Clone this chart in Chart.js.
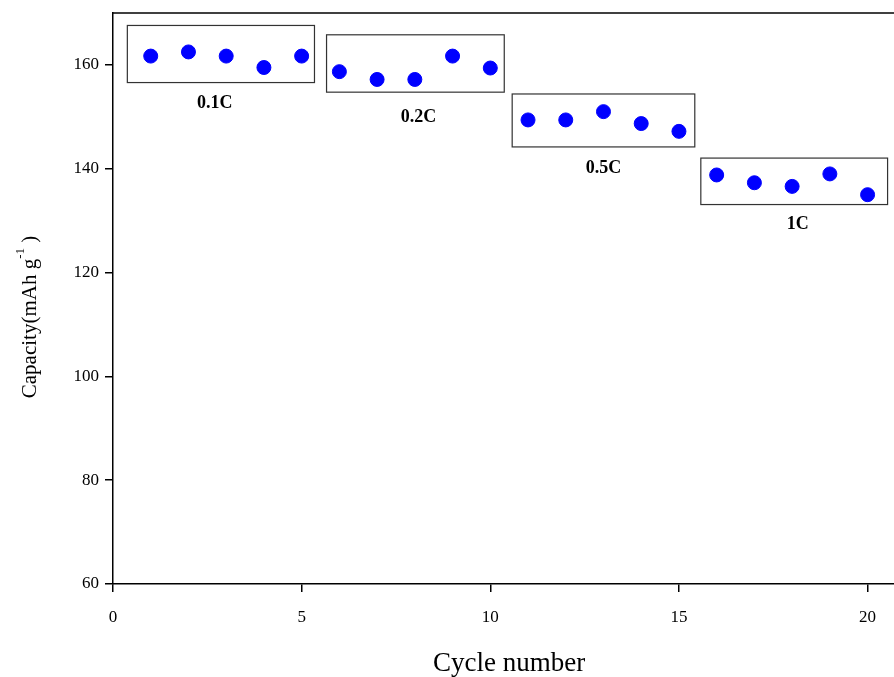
<!DOCTYPE html>
<html>
<head>
<meta charset="utf-8">
<script src="https://cdn.jsdelivr.net/npm/chart.js@4"></script>
<style>
  html, body { margin: 0; padding: 0; background: #fff; }
  canvas { display: block; }
</style>
</head>
<body>
<canvas id="chart" width="894" height="677"></canvas>
<script>
// Rate capability data
const cycles = [1, 2, 3, 4, 5, 6, 7, 8, 9, 10, 11, 12, 13, 14, 15, 16, 17, 18, 19, 20];
const capacity = [
  161.7, 162.5, 161.7, 159.5, 161.7,
  158.7, 157.2, 157.2, 161.7, 159.4,
  149.4, 149.4, 151.0, 148.7, 147.2,
  138.8, 137.3, 136.6, 139.0, 135.0,
];
const xTickValues = [0, 5, 10, 15, 20];
const yTickValues = [60, 80, 100, 120, 140, 160];

// Rate groups: label text and the boxed range (in data units)
const rateLabels = ["0.1C", "0.2C", "0.5C", "1C"];
const rateBoxes = [
  { x0: 0.38, x1: 5.34, y0: 156.6, y1: 167.6, lx: 2.7, ly: 152.6 },
  { x0: 5.66, x1: 10.37, y0: 154.75, y1: 165.8, lx: 8.1, ly: 149.9 },
  { x0: 10.58, x1: 15.42, y0: 144.2, y1: 154.4, lx: 13.0, ly: 140.1 },
  { x0: 15.58, x1: 20.53, y0: 133.1, y1: 142.05, lx: 18.15, ly: 129.2 },
];

const SERIF = "'Liberation Serif', 'Times New Roman', serif";

const annotations = {
  id: "annotations",
  afterDatasetsDraw(chart) {
    const { ctx, chartArea, scales } = chart;
    const xs = scales.x, ys = scales.y;
    ctx.save();

    // top spine
    ctx.strokeStyle = "#000";
    ctx.lineWidth = 1.5;
    ctx.beginPath();
    ctx.moveTo(chartArea.left, chartArea.top);
    ctx.lineTo(chartArea.right, chartArea.top);
    ctx.stroke();

    // boxes + labels
    ctx.strokeStyle = "#333";
    ctx.lineWidth = 1.2;
    ctx.fillStyle = "#000";
    ctx.font = "bold 18px " + SERIF;
    ctx.textAlign = "center";
    ctx.textBaseline = "middle";
    rateBoxes.forEach((b, i) => {
      const x0 = xs.getPixelForValue(b.x0), x1 = xs.getPixelForValue(b.x1);
      const y0 = ys.getPixelForValue(b.y1), y1 = ys.getPixelForValue(b.y0);
      ctx.strokeRect(x0, y0, x1 - x0, y1 - y0);
      ctx.fillText(rateLabels[i], xs.getPixelForValue(b.lx), ys.getPixelForValue(b.ly));
    });
    ctx.restore();
  },
  afterDraw(chart) {
    const { ctx, scales } = chart;

    // x axis title
    ctx.save();
    ctx.fillStyle = "#000";
    ctx.font = "27px " + SERIF;
    ctx.textAlign = "center";
    ctx.textBaseline = "middle";
    ctx.fillText("Cycle number", scales.x.getPixelForValue(10.5), 664);
    ctx.restore();

    // y axis title with superscript
    const big = "21px " + SERIF, small = "13px " + SERIF;
    const p1 = "Capacity(mAh g", sup = "-1", p3 = " )";
    ctx.save();
    ctx.font = big;
    const w1 = ctx.measureText(p1).width, w3 = ctx.measureText(p3).width;
    ctx.font = small;
    const w2 = ctx.measureText(sup).width;
    const total = w1 + w2 + w3;
    ctx.translate(30, 317);
    ctx.rotate(-Math.PI / 2);
    ctx.fillStyle = "#000";
    ctx.textBaseline = "middle";
    ctx.textAlign = "left";
    let x = -total / 2;
    ctx.font = big;
    ctx.fillText(p1, x, 0);
    x += w1;
    ctx.font = small;
    ctx.fillText(sup, x, -9);
    x += w2;
    ctx.font = big;
    ctx.fillText(p3, x, 0);
    ctx.restore();
  },
};

new Chart(document.getElementById("chart"), {
  type: "scatter",
  data: {
    datasets: [{
      label: "Capacity",
      data: cycles.map((c, i) => ({ x: c, y: capacity[i] })),
      backgroundColor: "#0000ff",
      borderColor: "#0000ff",
      pointRadius: 7,
      pointHoverRadius: 7,
    }],
  },
  options: {
    responsive: false,
    animation: false,
    devicePixelRatio: 1,
    layout: { autoPadding: false, padding: { top: 13, left: 0, right: 0, bottom: 0 } },
    plugins: {
      legend: { display: false },
      tooltip: { enabled: false },
    },
    scales: {
      x: {
        type: "linear",
        min: 0,
        max: 20.7,
        afterBuildTicks: (axis) => { axis.ticks = xTickValues.map((v) => ({ value: v })); },
        afterFit: (axis) => {
          axis.height = 93;
          axis.paddingLeft = 0;
          axis.paddingRight = 0;
        },
        border: { display: true, color: "#000", width: 1.5 },
        grid: { drawOnChartArea: false, drawTicks: true, tickLength: 8, color: "#000", lineWidth: 1.5 },
        ticks: { color: "#000", font: { family: SERIF, size: 17 }, padding: 15, maxRotation: 0 },
      },
      y: {
        min: 60,
        max: 170,
        afterBuildTicks: (axis) => { axis.ticks = yTickValues.map((v) => ({ value: v })); },
        afterFit: (axis) => {
          axis.width = 113;
          axis.paddingTop = 0;
          axis.paddingBottom = 0;
        },
        border: { display: true, color: "#000", width: 1.5 },
        grid: { drawOnChartArea: false, drawTicks: true, tickLength: 8, color: "#000", lineWidth: 1.5 },
        ticks: { color: "#000", font: { family: SERIF, size: 17 }, padding: 6 },
      },
    },
  },
  plugins: [annotations],
});
</script>
</body>
</html>
